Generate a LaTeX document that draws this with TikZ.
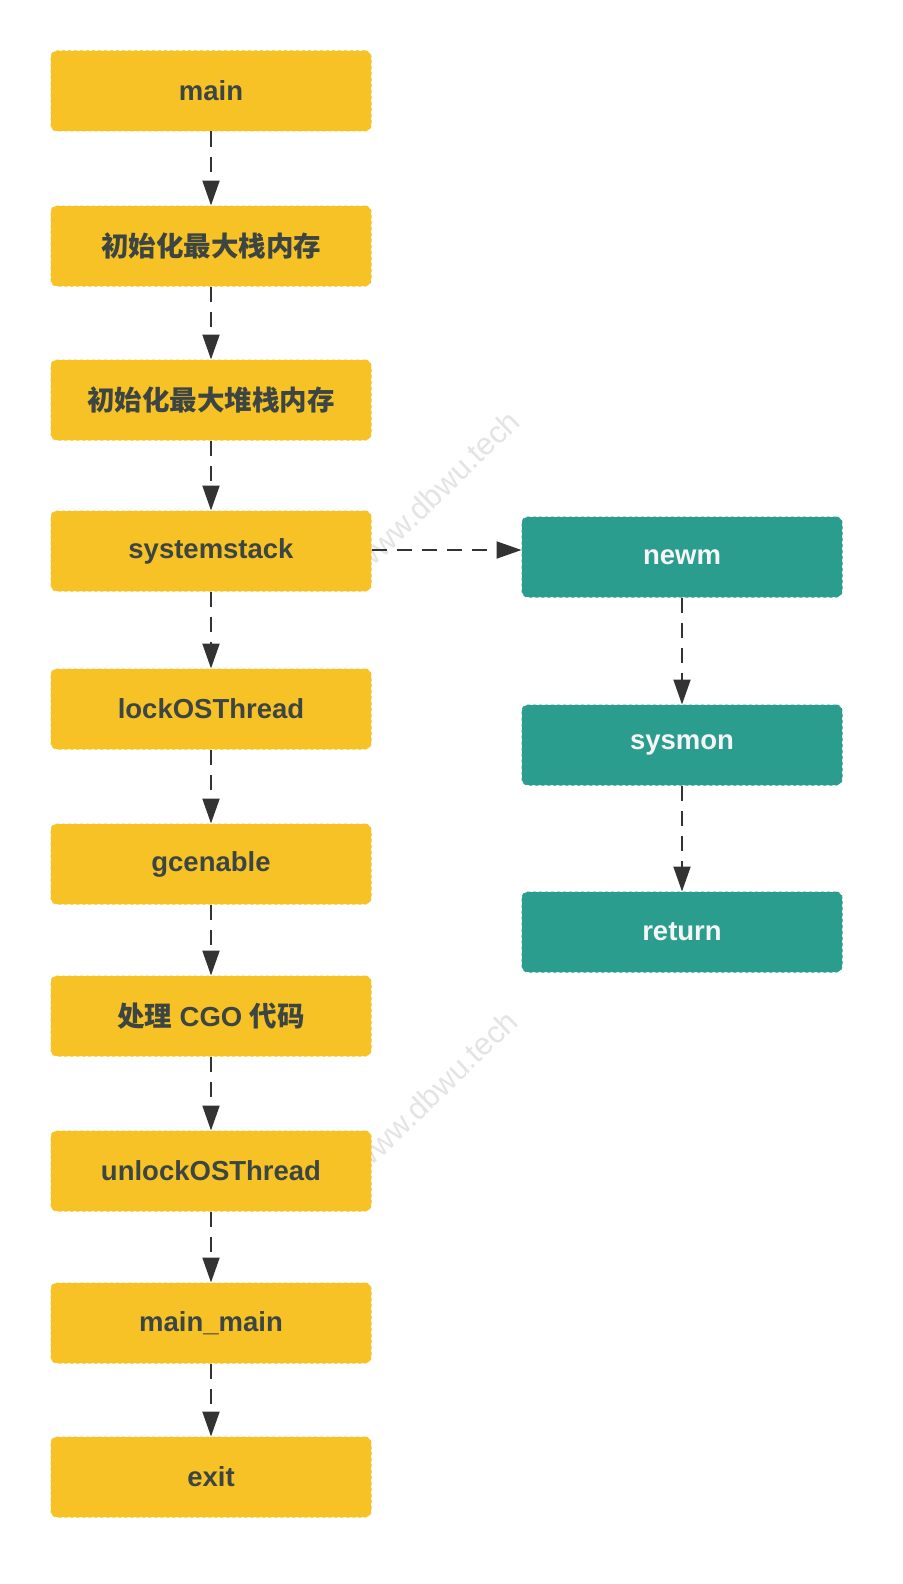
\documentclass[tikz,border=0pt]{standalone}
\usepackage{fontspec}
\setmainfont{Liberation Sans}
\newfontfamily\cjk{Noto Sans CJK SC}
\usetikzlibrary{arrows.meta}
\definecolor{ybox}{HTML}{F6C226}
\definecolor{tbox}{HTML}{2A9D8F}
\definecolor{dtext}{HTML}{3D4543}
\definecolor{arr}{HTML}{333333}
\definecolor{wm}{HTML}{E4E4E4}
\tikzset{
  ybox/.style={fill=ybox, draw=ybox, dashed, line width=1pt, rounded corners=6pt,
    minimum width=320pt, minimum height=80pt, inner sep=0pt,
    text=dtext, font=\fontsize{27.5}{32}\selectfont\bfseries},
  tbox/.style={fill=tbox, draw=tbox, dashed, line width=1pt, rounded corners=6pt,
    minimum width=320pt, minimum height=80pt, inner sep=0pt,
    text=white!96!black, font=\fontsize{27.5}{32}\selectfont\bfseries},
  flow/.style={draw=arr, line width=2pt, dash pattern=on 15pt off 10pt,
    -{Triangle[length=25pt,width=17pt]}},
  wmark/.style={text=wm, font=\fontsize{31}{34}\selectfont, rotate=44, inner sep=0pt}
}
\begin{document}
\begin{tikzpicture}[x=1pt,y=-1pt]
\useasboundingbox (0,0) rectangle (902,1584);
\fill[white] (0,0) rectangle (902,1584);
% watermarks (partly hidden behind the boxes)
\node[wmark, anchor=base east] (wm1) at (522,424) {www.dbwu.tech};
\node[wmark, anchor=base east] (wm2) at (520,1024) {www.dbwu.tech};
% left column
\node[ybox] (n1) at (211,91) {main};
\node[ybox] (n2) at (211,246) {\cjk\bfseries 初始化最大栈内存};
\node[ybox] (n3) at (211,400) {\cjk\bfseries 初始化最大堆栈内存};
\node[ybox] (n4) at (211,551) {systemstack};
\node[ybox] (n5) at (211,709) {lockOSThread};
\node[ybox] (n6) at (211,864) {gcenable};
\node[ybox] (n7) at (211,1016) {{\cjk\bfseries 处理} CGO {\cjk\bfseries 代码}};
\node[ybox] (n8) at (211,1171) {unlockOSThread};
\node[ybox] (n9) at (211,1323) {main\_main};
\node[ybox] (n10) at (211,1477) {exit};
% right column
\node[tbox] (r1) at (682,557) {newm};
\node[tbox] (r2) at (682,745) {sysmon};
\node[tbox] (r3) at (682,932) {return};
% connectors
\draw[flow] (n1.south) -- (n2.north);
\draw[flow] (n2.south) -- (n3.north);
\draw[flow] (n3.south) -- (n4.north);
\draw[flow] (n4.south) -- (n5.north);
\draw[flow] (n5.south) -- (n6.north);
\draw[flow] (n6.south) -- (n7.north);
\draw[flow] (n7.south) -- (n8.north);
\draw[flow] (n8.south) -- (n9.north);
\draw[flow] (n9.south) -- (n10.north);
\draw[flow] ([yshift=1pt]n4.east) -- ([yshift=1pt]n4.east -| r1.west);
\draw[flow] (r1.south) -- (r2.north);
\draw[flow] (r2.south) -- (r3.north);
\end{tikzpicture}
\end{document}
